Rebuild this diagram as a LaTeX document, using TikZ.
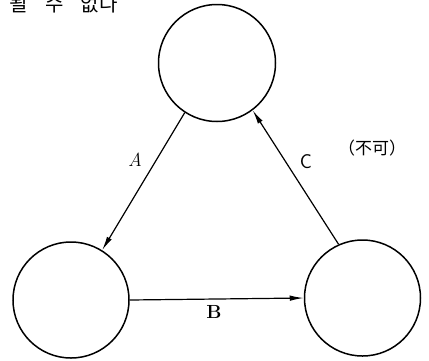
\documentclass[tikz,border=0pt]{standalone}
\usepackage{fontspec}
\newfontfamily\cjkfont{Noto Sans CJK KR}
\usetikzlibrary{arrows.meta}
\begin{document}
\begin{tikzpicture}[x=1pt,y=-1pt,
  state/.style={circle,draw,line width=1.5pt,minimum size=116pt,inner sep=0pt},
  edge/.style={line width=1.2pt,-{Latex[length=14pt,width=5.5pt]}},
  lab/.style={inner sep=0pt}]
\clip (0,0) rectangle (429,360);
\fill[white] (0,0) rectangle (429,360);
\node[state,minimum size=117pt] (top) at (217,63) {};
\node[state] (bl) at (71,300) {};
\node[state] (br) at (362.5,298) {};
\draw[edge] (top.237.6) -- (bl.58.4);
\draw[edge] (bl.east) -- (br.west);
\draw[edge] (br.114.8) -- (top.-53.3);
\node[lab,font=\fontsize{19}{19}\selectfont\itshape] (la) at (135,160) {A};
\node[lab,font=\fontsize{19}{19}\selectfont\bfseries] (lb) at (214,312) {B};
\node[lab,font=\fontsize{20}{20}\selectfont\sffamily] (lc) at (306,162) {C};
\node[inner sep=0pt,font=\cjkfont\fontsize{17}{17}\selectfont] (nk) at (372,148) {（不可）};
\node[inner sep=0pt,anchor=base west,font=\cjkfont\fontsize{20}{20}\selectfont] (top text) at (9,11.5) {될\hspace{18pt}수\hspace{17pt}없다};
\end{tikzpicture}
\end{document}
